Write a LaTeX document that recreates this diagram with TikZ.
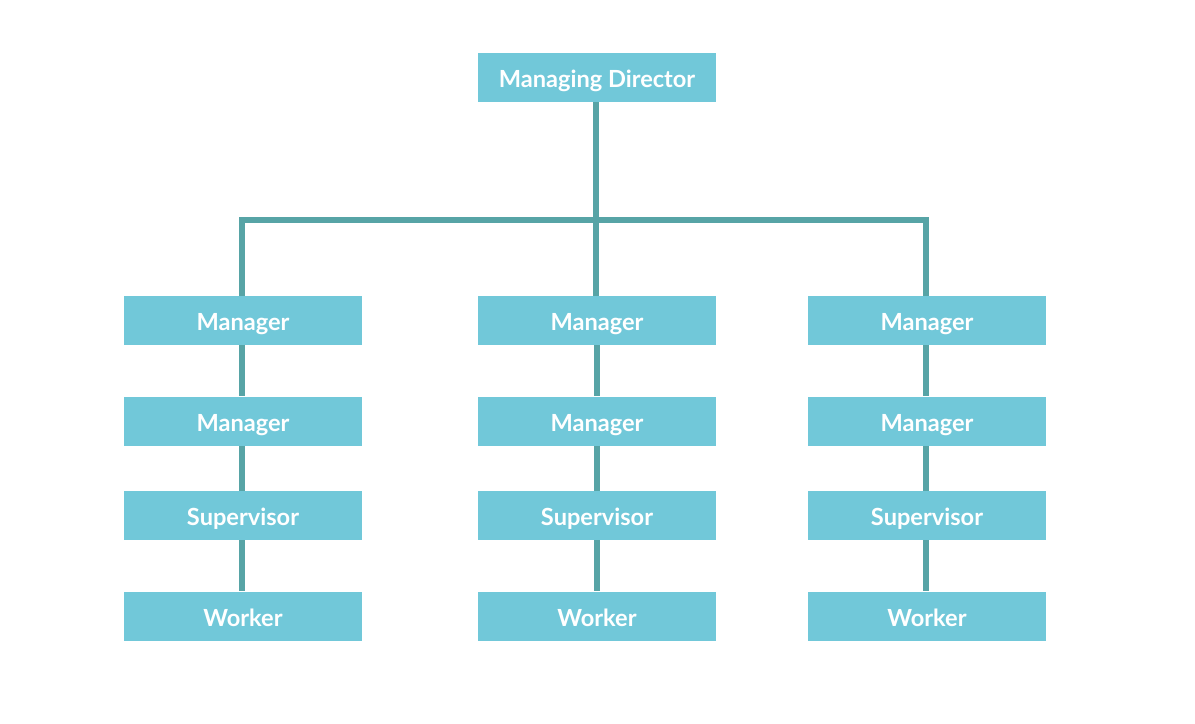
\documentclass[tikz,border=0pt]{standalone}
\usepackage{fontspec}
\setmainfont{Lato}[UprightFont=* Bold]
\definecolor{boxc}{HTML}{71C8D9}
\definecolor{linec}{HTML}{57A4A6}
\begin{document}
\begin{tikzpicture}[x=0.75pt,y=-0.75pt,
  orgbox/.style={fill=boxc, draw=none, minimum width=178.5pt, minimum height=36.75pt, inner sep=0pt, text=white, font=\fontsize{17.7}{20}\selectfont, text height=15.2pt, text depth=0pt},
  link/.style={draw=linec, line width=4.5pt}]
\useasboundingbox (0,0) rectangle (1195,724);
\node[orgbox] (md) at (597,77.5) {Managing Director};
\foreach \c/\x in {l/243,m/597,r/927}{
  \node[orgbox] (\c1) at (\x,320.5) {Manager};
  \node[orgbox] (\c2) at (\x,421) {Manager};
  \node[orgbox] (\c3) at (\x,515.5) {Supervisor};
  \node[orgbox] (\c4) at (\x,616) {Worker};
}
\coordinate (hl) at (242,220);
\coordinate (hm) at (596,220);
\coordinate (hr) at (926,220);
\draw[link] (md.south -| hm) -- (hm);
\draw[link] (hl |- l1.north) -- (hl) -- (hr) -- (hr |- r1.north);
\draw[link] (hm) -- (hm |- m1.north);
\draw[link] (l1.south -| hl) -- (l2.north -| hl);
\draw[link] (l2.south -| hl) -- (l3.north -| hl);
\draw[link] (l3.south -| hl) -- (l4.north -| hl);
\draw[link] (m1.south) -- (m2.north);
\draw[link] (m2.south) -- (m3.north);
\draw[link] (m3.south) -- (m4.north);
\draw[link] (r1.south -| hr) -- (r2.north -| hr);
\draw[link] (r2.south -| hr) -- (r3.north -| hr);
\draw[link] (r3.south -| hr) -- (r4.north -| hr);
\end{tikzpicture}
\end{document}
